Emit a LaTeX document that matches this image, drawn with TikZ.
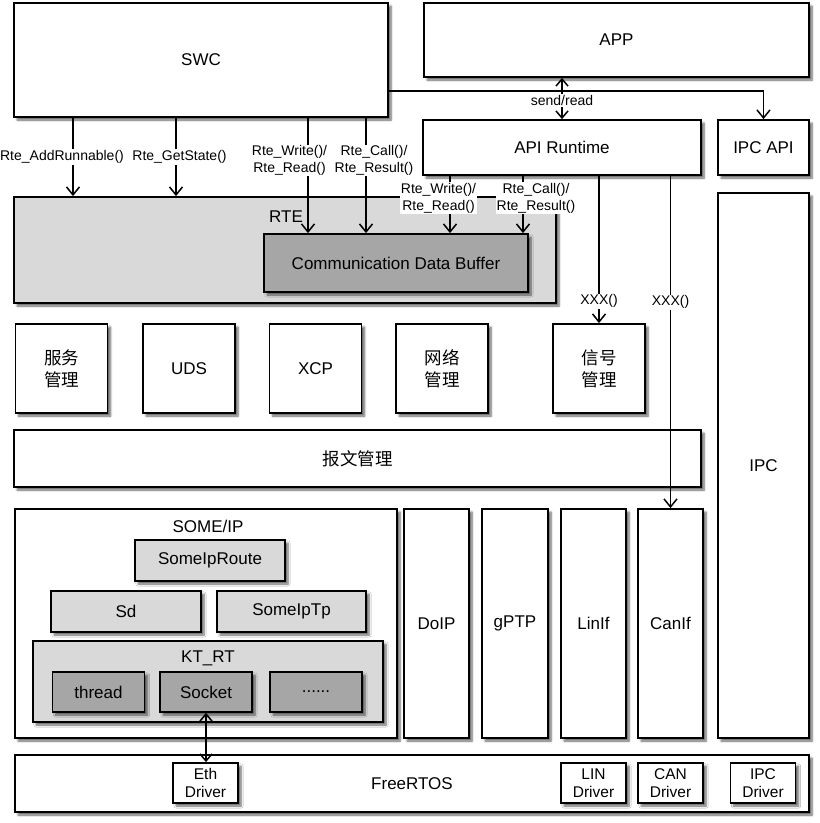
\documentclass[tikz,border=0pt]{standalone}
\usepackage{fontspec}
\setmainfont{Liberation Sans}
\newfontfamily\cjk{Noto Sans CJK SC}
\usetikzlibrary{arrows.meta,shadows.blur}
\definecolor{rtegray}{HTML}{D9D9D9}
\definecolor{bufgray}{HTML}{A6A6A6}
\tikzset{
  sz/.style 2 args={minimum width=#1pt, minimum height=#2pt},
  box/.style={draw, line width=1.8pt, fill=white, inner sep=0pt, align=center,
    font=\fontsize{17}{20}\selectfont,
    blur shadow={shadow xshift=3pt, shadow yshift=-3pt, shadow blur steps=6, shadow opacity=60}},
  title/.style={font=\fontsize{17}{20}\selectfont},
  cjkfont/.style={font=\cjk\fontsize{17.5}{22}\selectfont},
  drv/.style={box, sz={65}{40}, font=\fontsize{15.5}{18}\selectfont},
  lbl/.style={fill=white, inner sep=1pt, align=center, font=\fontsize{14}{16.5}\selectfont},
  arr/.style={line width=1.5pt, -{Straight Barb[length=8pt,width=13pt]}},
  darr/.style={line width=1.5pt, {Straight Barb[length=7pt,width=12pt]}-{Straight Barb[length=7pt,width=12pt]}},
}

\begin{document}
\begin{tikzpicture}[x=1pt,y=-1pt]
\useasboundingbox (0,0) rectangle (820,823);
% 上层
\node[box, sz={374}{114}] (swc) at (201,60) {SWC};
\node[box, sz={385}{74}] (app) at (616.5,40) {APP};
\node[box, sz={278}{55}] (api) at (562,147.5) {API Runtime};
\node[box, sz={91}{55}] (ipcapi) at (763.5,147.5) {IPC API};
% RTE
\node[box, fill=rtegray, sz={542}{106}] (rte) at (285,250) {};
\node[title] (rtename) at (286,217) {RTE};
\node[box, fill=bufgray, sz={264}{58}] (cdb) at (396,263) {Communication Data Buffer};
% 中间一排
\foreach \n/\x/\t in {fw/61.5/服务, nm/442/网络, sig/599/信号} {
  \node[box, cjkfont, sz={92}{89}] (\n) at (\x,368.5) {\t\\管理};
}
\node[box, sz={92}{89}] (uds) at (189,368.5) {UDS};
\node[box, sz={92}{89}] (xcp) at (315.5,368.5) {XCP};
\node[box, cjkfont, sz={687}{57}] (msg) at (357.5,458.5) {报文管理};
\node[box, sz={91}{545}] (ipc) at (763.5,465.5) {IPC};
% SOME/IP
\node[box, sz={382}{229}] (someip) at (206,623.5) {};
\node[title] (someipname) at (208,526) {SOME/IP};
\node[box, fill=rtegray, sz={150}{41}] (route) at (210,560.5) {SomeIpRoute};
\node[box, fill=rtegray, sz={150}{41}] (sd) at (126,611.5) {Sd};
\node[box, fill=rtegray, sz={149}{41}] (tp) at (291.5,611.5) {SomeIpTp};
\node[box, fill=rtegray, sz={350}{81}] (ktrt) at (208,681.5) {};
\node[title] (ktrtname) at (208,658) {KT\_RT};
\foreach \n/\x/\t in {thread/98.5/thread, socket/206/Socket} {
  \node[box, fill=bufgray, sz={92}{40}] (\n) at (\x,692) {\t};
}
\node[box, fill=bufgray, sz={92}{40}] (more) at (316,692) {......};
\foreach \n/\x/\w/\t in {doip/436.5/65/DoIP, gptp/515/66/gPTP, linif/593.5/65/LinIf, canif/670.5/65/CanIf} {
  \node[box, sz={\w}{229}] (\n) at (\x,623.5) {\t};
}
% FreeRTOS
\node[box, sz={794}{57}] (os) at (412,783.5) {FreeRTOS};
\foreach \n/\x/\t in {eth/205.5/Eth, lin/593.5/LIN, can/670.5/CAN, ipcdrv/763/IPC} {
  \node[drv] (\n) at (\x,783) {\t\\Driver};
}
% 连线
\draw[arr] (swc.south -| 73,0) -- node[lbl, xshift=-11pt]{Rte\_AddRunnable()} (rte.north -| 73,0);
\draw[arr] (swc.south -| 176,0) -- node[lbl, xshift=3.5pt]{Rte\_GetState()} (rte.north -| 176,0);
\draw[arr] (swc.south -| 308,0) -- node[lbl, pos=0.37, xshift=-18.5pt]{Rte\_Write()/\\Rte\_Read()} (cdb.north -| 308,0);
\draw[arr] (swc.south -| 366,0) -- node[lbl, pos=0.37, xshift=8pt]{Rte\_Call()/\\Rte\_Result()} (cdb.north -| 366,0);
\draw[arr] (swc.east |- 0,91) -| (ipcapi.north);
\draw[darr] (app.south -| api.north) -- node[lbl, pos=0.55]{send/read} (api.north);
\draw[arr] (api.south -| 450,0) -- node[lbl, pos=0.39, xshift=-11.5pt]{Rte\_Write()/\\Rte\_Read()} (cdb.north -| 450,0);
\draw[arr] (api.south -| 523,0) -- node[lbl, pos=0.39, xshift=13pt]{Rte\_Call()/\\Rte\_Result()} (cdb.north -| 523,0);
\draw[arr] (api.south -| sig.north) -- node[lbl, pos=0.85]{XXX()} (sig.north);
\draw[arr] (api.south -| canif.north) -- node[lbl, pos=0.38]{XXX()} (canif.north);
\draw[darr] (socket.south) -- (socket.south |- eth.north);
\end{tikzpicture}
\end{document}
